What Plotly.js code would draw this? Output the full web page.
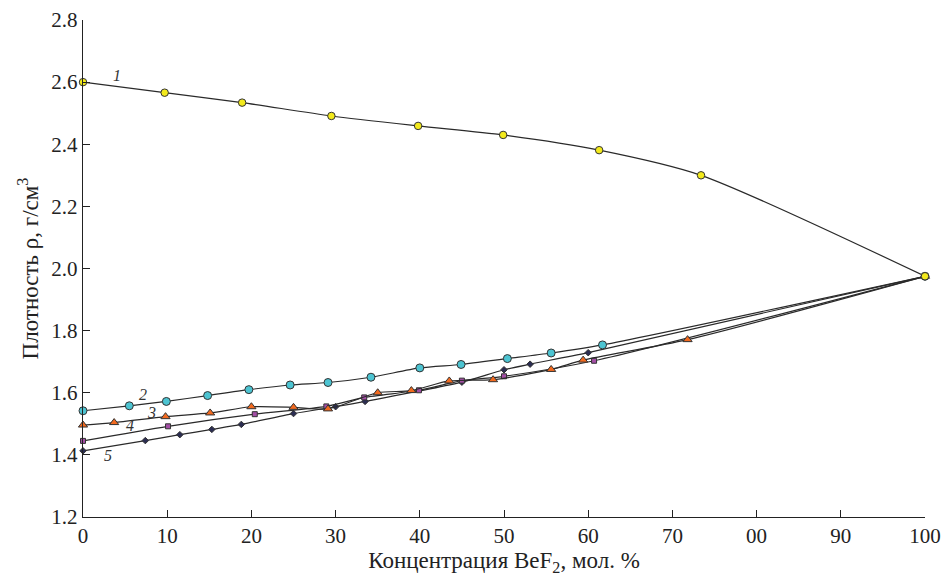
<!DOCTYPE html>
<html>
<head>
<meta charset="utf-8">
<script src="https://cdn.plot.ly/plotly-3.0.1.min.js"></script>
<style>html,body{margin:0;padding:0;background:#fff;}#chart{width:945px;height:581px;}</style>
</head>
<body>
<div id="chart"></div>
<script>
// Series data
const x1 = [0, 9.7, 18.9, 29.5, 39.8, 49.9, 61.3, 73.4, 100];
const y1 = [2.600, 2.566, 2.534, 2.491, 2.459, 2.430, 2.381, 2.300, 1.975];

const x2 = [0, 5.5, 9.9, 14.8, 19.7, 24.6, 29.1, 34.2, 40.0, 44.9, 50.4, 55.6, 61.7, 100];
const y2 = [1.542, 1.558, 1.572, 1.591, 1.610, 1.625, 1.633, 1.650, 1.680, 1.691, 1.710, 1.728, 1.754, 1.975];

const x3 = [0, 3.7, 9.8, 15.1, 20.0, 25.0, 29.1, 35.0, 39.0, 43.5, 48.7, 55.6, 59.4, 71.8, 100];
const y3 = [1.496, 1.504, 1.523, 1.535, 1.555, 1.553, 1.548, 1.600, 1.607, 1.638, 1.642, 1.675, 1.705, 1.771, 1.975];

const x4 = [0, 10.1, 20.4, 28.9, 33.4, 39.9, 45.0, 50.0, 60.7, 100];
const y4 = [1.445, 1.492, 1.531, 1.556, 1.585, 1.608, 1.639, 1.653, 1.703, 1.975];

const x5 = [0, 7.4, 11.5, 15.3, 18.8, 25.0, 30.0, 33.5, 45.0, 50.0, 53.1, 60.0, 100];
const y5 = [1.413, 1.446, 1.465, 1.482, 1.498, 1.533, 1.555, 1.572, 1.634, 1.674, 1.692, 1.729, 1.975];

const xTickVals = [0, 10, 20, 30, 40, 50, 60, 70, 80, 90, 100];
const xTickText = ['0', '10', '20', '30', '40', '50', '60', '70', '00', '90', '100'];
const yTickVals = [1.2, 1.4, 1.6, 1.8, 2.0, 2.2, 2.4, 2.6, 2.8];
const yTickText = ['1.2', '1.4', '1.6', '1.8', '2.0', '2.2', '2.4', '2.6', '2.8'];

const curveLabels = ['1', '2', '3', '4', '5'];
const labelX = [4.0, 7.1, 8.1, 5.6, 3.0];
const labelY = [2.620, 1.595, 1.537, 1.494, 1.399];

const FONT = 'Liberation Serif';
const lineStyle = {color: '#2a2a2a', width: 1.2, shape: 'spline', smoothing: 0.7};

function series(x, y, sym, size, color) {
  return {
    x: x, y: y, type: 'scatter', mode: 'lines+markers',
    line: lineStyle,
    marker: {symbol: sym, size: size, color: color, line: {color: '#333333', width: 1}},
    cliponaxis: false, showlegend: false, hoverinfo: 'x+y'
  };
}

const traces = [
  series(x5, y5, 'diamond', 5, '#2b2d52'),
  series(x4, y4, 'square', 5, '#a44ea6'),
  series(x3, y3, 'triangle-up', 8, '#f26a1f'),
  series(x2, y2, 'circle', 8, '#4cc4d2'),
  series(x1, y1, 'circle', 7.5, '#f3ea1c')
];

const annotations = curveLabels.map((t, i) => ({
  x: labelX[i], y: labelY[i], xref: 'x', yref: 'y', text: '<i>' + t + '</i>',
  showarrow: false, font: {family: FONT, size: 16, color: '#333'}
}));

const layout = {
  width: 945, height: 581,
  margin: {l: 83, r: 20, t: 20, b: 64},
  paper_bgcolor: '#ffffff', plot_bgcolor: '#ffffff',
  font: {family: FONT, size: 21, color: '#222'},
  xaxis: {
    range: [0, 100], tickvals: xTickVals, ticktext: xTickText,
    ticks: 'inside', ticklen: 7, tickwidth: 1, tickcolor: '#222',
    showline: true, linecolor: '#222', linewidth: 1.2, mirror: false,
    showgrid: false, zeroline: false,
    tickfont: {family: FONT, size: 21, color: '#222'},
    title: {text: 'Концентрация BeF<sub>2</sub>, мол. %', font: {family: FONT, size: 23, color: '#222'}, standoff: 4}
  },
  yaxis: {
    range: [1.2, 2.8], tickvals: yTickVals, ticktext: yTickText,
    ticks: 'inside', ticklen: 7, tickwidth: 1, tickcolor: '#222',
    showline: true, linecolor: '#222', linewidth: 1.2, mirror: false,
    showgrid: false, zeroline: false,
    tickfont: {family: FONT, size: 21, color: '#222'},
    title: {text: 'Плотность ρ, г/см<sup>3</sup>', font: {family: FONT, size: 23, color: '#222'}, standoff: 6}
  },
  annotations: annotations
};

Plotly.newPlot('chart', traces, layout, {staticPlot: true, displayModeBar: false});
</script>
</body>
</html>
